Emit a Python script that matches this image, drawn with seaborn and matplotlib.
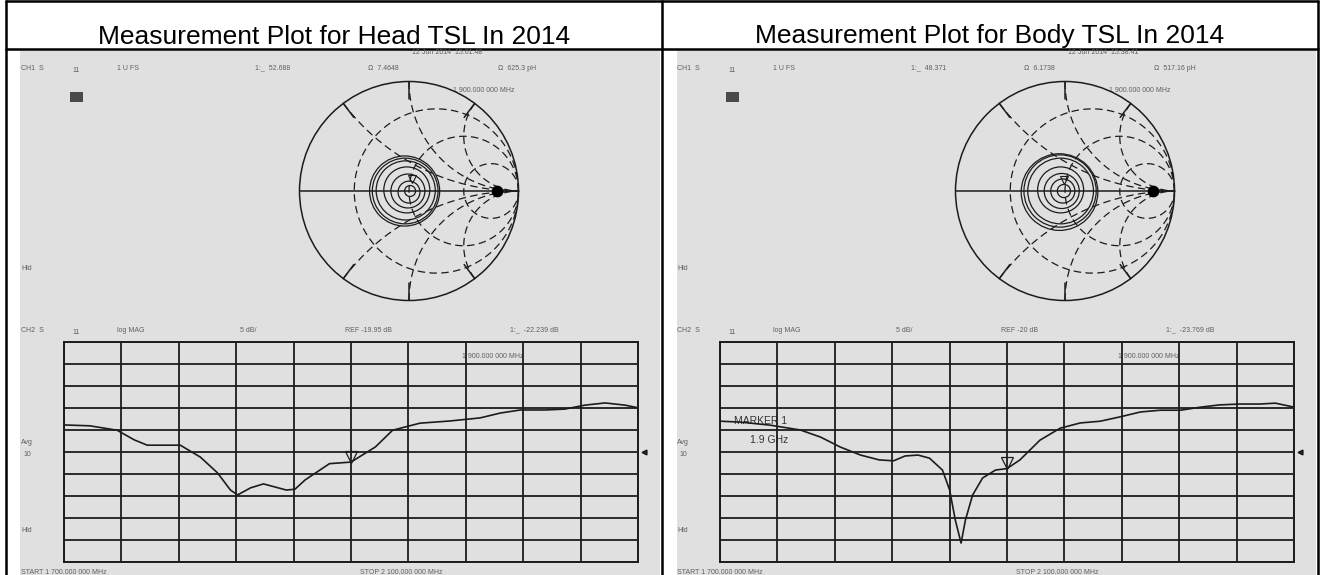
import numpy as np
import matplotlib
matplotlib.use("Agg")
import matplotlib.pyplot as plt
import matplotlib.transforms as mtransforms
from matplotlib.patches import Circle, Rectangle
import seaborn as sns

# ── DATA ──────────────────────────────────────────────────
TITLES = ["Measurement Plot for Head TSL In 2014",
          "Measurement Plot for Body TSL In 2014"]

START_GHZ = 1.7
STOP_GHZ = 2.1
MARKER_GHZ = 1.9
DB_PER_DIV = 5

# CH2 log MAG traces
HEAD_FREQ = [1.700, 1.718, 1.737, 1.749, 1.758, 1.781, 1.795, 1.807, 1.816,
             1.821, 1.830, 1.839, 1.847, 1.855, 1.861, 1.868, 1.885, 1.900,
             1.917, 1.929, 1.948, 1.969, 1.990, 2.004, 2.018, 2.035, 2.049,
             2.063, 2.077, 2.091, 2.100]
HEAD_DB = [-13.8, -14.0, -15.0, -17.2, -18.4, -18.4, -21.1, -24.7, -28.6,
           -29.7, -28.1, -27.2, -27.9, -28.6, -28.4, -26.3, -22.6, -22.24,
           -18.8, -15.0, -13.4, -12.9, -12.2, -11.1, -10.4, -10.4, -10.2,
           -9.3, -8.8, -9.3, -9.9]

BODY_FREQ = [1.700, 1.714, 1.735, 1.756, 1.770, 1.784, 1.798, 1.811, 1.821,
             1.829, 1.838, 1.846, 1.855, 1.860, 1.864, 1.868, 1.871, 1.876,
             1.883, 1.892, 1.900, 1.909, 1.923, 1.937, 1.951, 1.965, 1.979,
             1.993, 2.007, 2.021, 2.035, 2.048, 2.062, 2.076, 2.087, 2.100]
BODY_DB = [-13.0, -13.2, -13.9, -15.0, -16.6, -18.9, -20.7, -21.8, -22.0,
           -20.9, -20.7, -21.4, -24.1, -28.6, -35.5, -40.7, -35.5, -29.8,
           -25.9, -24.1, -23.77, -21.8, -17.3, -14.6, -13.4, -13.0, -12.0,
           -10.9, -10.5, -10.5, -9.8, -9.3, -9.1, -9.1, -8.9, -9.8]

HEAD_REF_DB = -19.95
BODY_REF_DB = -20.0

# marker 1 readouts
HEAD_MARKER_DB = -22.239
BODY_MARKER_DB = -23.769
HEAD_Z = [52.688, 7.4648]     # ohm (real, imag)
BODY_Z = [48.371, 6.1738]
HEAD_L_PH = 625.3
BODY_L_PH = 517.16
HEAD_STAMP = "12 Jun 2014  15:01:48"
BODY_STAMP = "12 Jun 2014  15:38:41"

# CH1 Smith chart: loops of the S11 trace (|Γ| and loop centre)
HEAD_LOOP_R = [0.32, 0.30, 0.27, 0.21, 0.155, 0.10, 0.05]
HEAD_LOOP_CX = [-0.04, -0.035, -0.03, -0.02, -0.01, 0.0, 0.01]
HEAD_LOOP_CY = [0.0, 0.0, 0.005, 0.01, 0.0, -0.01, 0.0]
BODY_LOOP_R = [0.35, 0.33, 0.30, 0.21, 0.16, 0.11, 0.06]
BODY_LOOP_CX = [-0.05, -0.045, -0.04, -0.04, -0.03, -0.02, -0.01]
BODY_LOOP_CY = [-0.01, 0.0, 0.0, 0.01, 0.0, 0.0, 0.0]
SMITH_DOT = 0.8

# ── SETTINGS ──────────────────────────────────────────────
sns.set_style("white")
plt.rcParams['font.family'] = ['Liberation Sans', 'DejaVu Sans']

W, H = 1325, 575
SCREEN_BG = '#e0e0e0'
INK = '#1c1c1c'
LABEL = '#606060'

fig = plt.figure(figsize=(W / 100, H / 100), dpi=100)
fig.patch.set_facecolor('white')


def px_axes(x0, y0, x1, y1, z=1):
    return fig.add_axes([x0 / W, 1 - y1 / H, (x1 - x0) / W, (y1 - y0) / H],
                        zorder=z)


# background layer in pixel coordinates: table + screenshot areas + labels
bg = px_axes(0, 0, W, H, z=0)
bg.set_xlim(0, W)
bg.set_ylim(H, 0)
bg.axis('off')

for x0, x1 in [(20, 660), (677, 1316)]:
    bg.add_patch(Rectangle((x0, 50), x1 - x0, H - 50, color=SCREEN_BG, lw=0))

# table lines
for x in (6, 662, 1318):
    bg.plot([x, x], [0, H], color='black', lw=1.8, solid_capstyle='butt')
bg.plot([6, 1318], [1, 1], color='black', lw=1.8)
bg.plot([6, 1318], [48.5, 48.5], color='black', lw=1.8)

for cx, title in zip([334, 990], TITLES):
    bg.text(cx, 43.5, title, ha='center', va='baseline', fontsize=19,
            color='black')


def small(x, y, s, size=5.0, **kw):
    bg.text(x, y, s, ha='left', va='center', fontsize=size, color=LABEL, **kw)


def smith_graticule(ax):
    ax.add_patch(Circle((0, 0), 1, fill=False, ec=INK, lw=1.1, clip_on=False))
    ax.plot([-1, 1], [0, 0], color=INK, lw=1.1, clip_on=False)
    dash = (0, (6, 3.5))
    th = np.linspace(0, 2 * np.pi, 400)
    for r in (1 / 3, 1, 3):
        c, rad = r / (1 + r), 1 / (1 + r)
        ax.plot(c + rad * np.cos(th), rad * np.sin(th), color=INK, lw=0.9,
                ls=dash)
    rr = np.tan(np.linspace(0, np.pi / 2 - 1e-3, 500))
    for xv in (0.5, 1, 2, -0.5, -1, -2):
        g = (rr + 1j * xv - 1) / (rr + 1j * xv + 1)
        ax.plot(g.real, g.imag, color=INK, lw=0.9, ls=dash)
        e = (1j * xv - 1) / (1j * xv + 1)
        ax.plot([e.real, 0.84 * e.real], [e.imag, 0.84 * e.imag],
                color=INK, lw=1.1)
    ax.set_xlim(-1, 1)
    ax.set_ylim(-1, 1)
    ax.set_aspect('equal')
    ax.axis('off')


def draw_panel(off, freq, db, ref, mk_db, z, l_ph, stamp,
               loop_r, loop_cx, loop_cy, body=False):
    # ── header texts (CH1) ──
    small(off + 412, 53, stamp)
    small(off + 21, 68, "CH1  S")
    small(off + 72, 71, "11")
    small(off + 117, 68, "1 U FS")
    small(off + 255, 68, "1:_  %.3f" % z[0])
    small(off + 368, 68, "\u2126  %.4f" % z[1])
    small(off + 498, 68, "\u2126  %s pH" % l_ph)
    small(off + 453, 91, "1 900.000 000 MHz")
    bg.add_patch(Rectangle((off + 70, 92), 13, 10, color='#4a4a4a', lw=0))
    small(off + 21, 268, "Hld")

    # ── CH2 texts ──
    small(off + 21, 330, "CH2  S")
    small(off + 72, 333, "11")
    small(off + 117, 330, "log MAG")
    small(off + 240, 330, "5 dB/")
    ref_txt = "REF %s dB" % (("%.2f" % ref) if ref != round(ref) else "%d" % ref)
    small(off + 345, 330, ref_txt)
    small(off + 510, 330, "1:_  %.3f dB" % mk_db)
    small(off + 462, 357, "1 900.000 000 MHz")
    small(off + 21, 443, "Avg")
    small(off + 23, 454, "10")
    small(off + 21, 530, "Hld")
    small(off + 21, 572, "START 1 700.000 000 MHz")
    small(off + 360, 572, "STOP 2 100.000 000 MHz")
    if body:
        bg.text(off + 78, 421, "MARKER 1", fontsize=7.5, color='#333333',
                ha='left', va='center')
        bg.text(off + 94, 440, "1.9 GHz", fontsize=7.5, color='#333333',
                ha='left', va='center')

    # ── Smith chart (CH1) ──
    cx, cy, rad = 409 + off, 191, 109.5
    sax = px_axes(cx - rad, cy - rad, cx + rad, cy + rad)
    sax.patch.set_alpha(0)
    smith_graticule(sax)
    for r, x0, y0 in zip(loop_r, loop_cx, loop_cy):
        sax.add_patch(Circle((x0, y0), r, fill=False, ec=INK, lw=0.9))
    sax.scatter([SMITH_DOT], [0], s=55, color='black', zorder=5)
    zc = complex(z[0], z[1])
    g = (zc - 50) / (zc + 50)
    tr = mtransforms.offset_copy(sax.transData, fig=fig, x=0, y=3,
                                 units='points')
    sax.plot([g.real], [g.imag], marker='v', ms=6, mfc='none', mec=INK,
             mew=0.8, transform=tr)

    # ── log MAG grid (CH2) ──
    lax = px_axes(64 + off, 342, 638 + off, 562)
    lax.patch.set_alpha(0)
    sns.lineplot(x=freq, y=db, ax=lax, color=INK, lw=1.2, estimator=None)
    lax.set_xlim(START_GHZ, STOP_GHZ)
    lax.set_ylim(ref - 5 * DB_PER_DIV, ref + 5 * DB_PER_DIV)
    lax.set_xticks(np.linspace(START_GHZ, STOP_GHZ, 11))
    lax.set_yticks(np.linspace(ref - 5 * DB_PER_DIV, ref + 5 * DB_PER_DIV, 11))
    lax.grid(True, color=INK, lw=1.3)
    lax.tick_params(length=0, labelbottom=False, labelleft=False)
    for sp in lax.spines.values():
        sp.set_visible(True)
        sp.set_color(INK)
        sp.set_linewidth(1.4)
    tr = mtransforms.offset_copy(lax.transData, fig=fig, x=0, y=4,
                                 units='points')
    lax.plot([MARKER_GHZ], [mk_db], marker='v', ms=8, mfc='none', mec=INK,
             mew=0.9, transform=tr)
    tr = mtransforms.offset_copy(lax.transData, fig=fig, x=4, y=0,
                                 units='points')
    lax.plot([STOP_GHZ], [ref], marker='<', ms=3.5, color=INK, transform=tr,
             clip_on=False)
    lax.set_xlabel('')
    lax.set_ylabel('')


draw_panel(0, HEAD_FREQ, HEAD_DB, HEAD_REF_DB, HEAD_MARKER_DB, HEAD_Z,
           HEAD_L_PH, HEAD_STAMP, HEAD_LOOP_R, HEAD_LOOP_CX, HEAD_LOOP_CY)
draw_panel(656, BODY_FREQ, BODY_DB, BODY_REF_DB, BODY_MARKER_DB, BODY_Z,
           BODY_L_PH, BODY_STAMP, BODY_LOOP_R, BODY_LOOP_CX, BODY_LOOP_CY,
           body=True)

fig.savefig('out.png', dpi=100, facecolor='white')
